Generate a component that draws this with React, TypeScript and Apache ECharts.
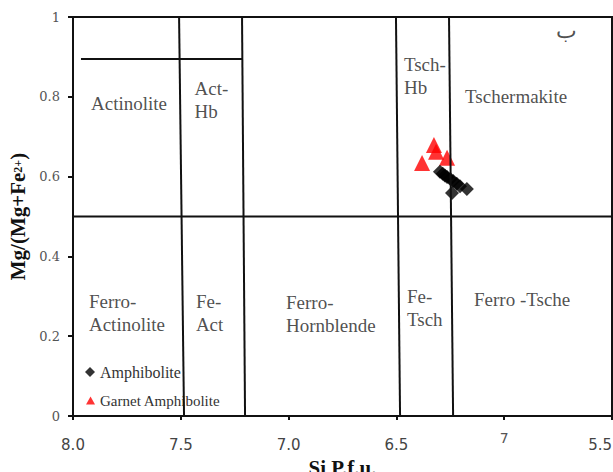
import React, { useEffect, useRef } from "react";
import * as echarts from "echarts";

const xTickValues = [8.0, 7.5, 7.0, 6.5, 6.0, 5.5];
const xTickLabels = ["8.0", "7.5", "7.0", "6.5", "7", "5.5"];
const yTickLabels = ["0", "0.2", "0.4", "0.6", "0.8", "1"];

// field boundaries: [[x1, y1], [x2, y2]]
const boundaries = [
  [[7.508, 1], [7.485, 0]],
  [[7.216, 1], [7.202, 0]],
  [[6.502, 1], [6.483, 0]],
  [[6.256, 1], [6.237, 0]],
  [[8.0, 0.5], [5.5, 0.5]],
  [[7.963, 0.895], [7.214, 0.895]],
];

const amphibolite = [
  [6.298, 0.612],
  [6.285, 0.607],
  [6.275, 0.603],
  [6.265, 0.599],
  [6.25, 0.594],
  [6.237, 0.589],
  [6.22, 0.582],
  [6.205, 0.576],
  [6.173, 0.569],
  [6.242, 0.559],
];

const garnetAmphibolite = [
  [6.326, 0.679],
  [6.316, 0.662],
  [6.381, 0.634],
  [6.265, 0.647],
];

const fieldNames = [
  "Actinolite",
  "Act-\nHb",
  "Tsch-\nHb",
  "Tschermakite",
  "Ferro-\nActinolite",
  "Fe-\nAct",
  "Ferro-\nHornblende",
  "Fe-\nTsch",
  "Ferro -Tsche",
  "ب",
];
const fieldX = [7.74, 7.436, 6.465, 5.945, 7.926, 7.43, 7.012, 6.451, 6.14, 5.709];
const fieldY = [0.782, 0.792, 0.851, 0.8, 0.259, 0.258, 0.256, 0.271, 0.293, 0.967];
const fieldAlign = ["center", "left", "left", "center", "left", "left", "left", "left", "left", "center"];

const serif = "'Liberation Serif', 'Times New Roman', Times, serif";
const sans = "'DejaVu Sans', Verdana, sans-serif";

export default function App() {
  const ref = useRef<HTMLDivElement>(null);
  useEffect(() => {
    const chart = echarts.init(ref.current!, null, { renderer: "svg", width: 613, height: 472 });
    const lineSeries = boundaries.map((b) => ({
      type: "line",
      data: b,
      symbol: "none",
      silent: true,
      z: 5,
      lineStyle: { color: "#111", width: 2 },
    }));
    const labelSeries = {
      type: "scatter",
      symbol: "circle",
      symbolSize: 0,
      silent: true,
      z: 6,
      data: fieldNames.map((n, i) => ({
        value: [fieldX[i], fieldY[i]],
        name: n,
        label: {
          show: true,
          position: "inside",
          formatter: n,
          align: fieldAlign[i],
          verticalAlign: "middle",
          fontFamily: serif,
          fontSize: n === "ب" ? 22 : 19,
          lineHeight: 23,
          color: "#222",
        },
      })),
    };
    chart.setOption({
      animation: false,
      grid: {
        left: 73,
        top: 17,
        width: 539,
        height: 399,
        outerBoundsMode: "none",
        containLabel: false,
        show: true,
        borderColor: "#111",
        borderWidth: 2,
      },
      legend: [
        {
          data: [{ name: "Amphibolite", icon: "diamond" }],
          left: 85,
          top: 364,
          padding: 0,
          itemWidth: 10,
          itemHeight: 10,
          itemGap: 2,
          textStyle: { fontFamily: serif, fontSize: 16, color: "#333" },
        },
        {
          data: [{ name: "Garnet Amphibolite", icon: "triangle" }],
          left: 86,
          top: 393,
          padding: 0,
          itemWidth: 9,
          itemHeight: 8,
          itemGap: 2,
          textStyle: { fontFamily: serif, fontSize: 15, color: "#333" },
        },
      ],
      xAxis: {
        type: "value",
        inverse: true,
        min: 5.5,
        max: 8,
        interval: 0.5,
        name: "Si P.f.u.",
        nameLocation: "middle",
        nameGap: 32,
        nameTextStyle: { fontFamily: serif, fontWeight: "bold", fontSize: 21, lineHeight: 22, color: "#111" },
        axisLine: { lineStyle: { color: "#111", width: 2 } },
        axisTick: { show: true, length: 4, lineStyle: { color: "#111", width: 2 } },
        splitLine: { show: false },
        axisLabel: {
          margin: 21,
          showMaxLabel: true,
          showMinLabel: true,
          alignMinLabel: "right",
          formatter: (v: number) => {
            const i = xTickValues.findIndex((t) => Math.abs(t - v) < 1e-6);
            const s = i >= 0 ? xTickLabels[i] : "";
            return s === "7" ? "{up|" + s + "}" : s;
          },
          fontFamily: sans,
          fontSize: 15,
          color: "#444",
          rich: {
            up: { fontFamily: sans, fontSize: 14, color: "#555", lineHeight: 1 },
          },
        },
      },
      yAxis: {
        type: "value",
        min: 0,
        max: 1,
        interval: 0.2,
        name: "{a|Mg/(Mg+Fe}{s|2+}{a|)}",
        nameLocation: "middle",
        nameGap: 44,
        nameTextStyle: {
          rich: {
            a: { fontFamily: serif, fontWeight: "bold", fontSize: 21, color: "#111" },
            s: { fontFamily: serif, fontWeight: "bold", fontSize: 12, color: "#111", lineHeight: 10 },
          },
        },
        axisLine: { show: true, lineStyle: { color: "#111", width: 2 } },
        axisTick: { show: true, length: 5, lineStyle: { color: "#111", width: 2 } },
        splitLine: { show: false },
        axisLabel: {
          margin: 13,
          formatter: (v: number) => yTickLabels[Math.round(v * 5)] ?? "",
          fontFamily: "'DejaVu Serif', serif",
          fontSize: 13,
          color: "#555",
        },
      },
      series: [
        ...lineSeries,
        labelSeries,
        {
          name: "Garnet Amphibolite",
          type: "scatter",
          symbol: "triangle",
          symbolSize: 16,
          z: 3,
          itemStyle: { color: "#ff0000" },
          data: garnetAmphibolite,
        },
        {
          name: "Amphibolite",
          type: "scatter",
          symbol: "diamond",
          symbolSize: 14,
          z: 4,
          itemStyle: { color: "#000" },
          data: amphibolite,
        },
      ],
    });
    return () => chart.dispose();
  }, []);
  return (
    <div
      ref={ref}
      style={{ position: "fixed", left: 0, top: 0, width: 613, height: 472, background: "#fff" }}
    />
  );
}
